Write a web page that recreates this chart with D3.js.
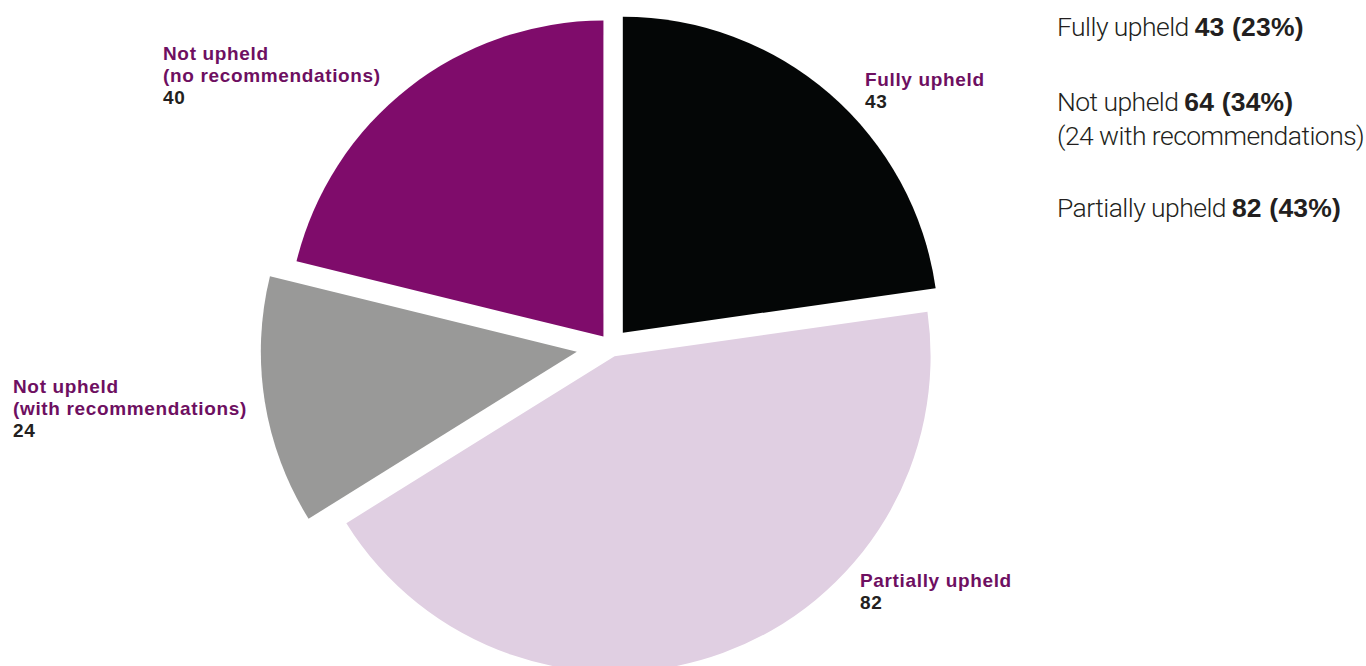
<!DOCTYPE html>
<html>
<head>
<meta charset="utf-8">
<script src="https://cdn.jsdelivr.net/npm/d3@7"></script>
<style>
  body { margin: 0; background: #fff; }
  .lbl { font-family: "Liberation Sans", Arial, sans-serif; font-weight: bold; font-size: 19px; letter-spacing: 0.65px; }
  .leg { font-family: Roboto, "Liberation Sans", sans-serif; font-weight: 300; font-size: 26.5px; letter-spacing: -0.55px; fill: #231f20; }
  .leg .b { font-family: "Liberation Sans", Arial, sans-serif; font-weight: bold; letter-spacing: 0.2px; }
</style>
</head>
<body>
<div id="chart"></div>
<script>
// slice data (clockwise from 12 o'clock)
categories = ['Fully upheld', 'Partially upheld', 'Not upheld (with recommendations)', 'Not upheld (no recommendations)']
values = [43, 82, 24, 40]
labelLines = [['Fully upheld'], ['Partially upheld'], ['Not upheld', '(with recommendations)'], ['Not upheld', '(no recommendations)']]

// legend on the right
legendNames = ['Fully upheld', 'Not upheld', 'Partially upheld']
legendCounts = [43, 64, 82]
legendPcts = ['23%', '34%', '43%']
legendNotes = ['', '(24 with recommendations)', '']

// styling / layout
colors = ['#040606', '#e0cfe2', '#999998', '#7f0c6b']
explode = [18, 10.5, 34.6, 12.3]
labelPos = [[865, 86], [860, 587], [13, 393], [163, 60]]
legendY = [36, 111, 217]

svgWidth = 1366
svgHeight = 666
cx = 611
cy = 346.3
radius = 316

svg = d3.select('#chart')
        .append('svg')
        .attr('width', svgWidth)
        .attr('height', svgHeight)

pie = d3.pie().sort(null).value(d => d)
arcs = pie(values)

arc = d3.arc().innerRadius(0).outerRadius(radius)

pieGroup = svg.append('g')
              .attr('transform', `translate(${cx},${cy})`)

pieGroup.selectAll('path')
        .data(arcs)
        .enter()
        .append('path')
        .attr('d', arc)
        .attr('fill', (d, i) => colors[i])
        .attr('transform', (d, i) => {
            a = (d.startAngle + d.endAngle) / 2
            return `translate(${Math.sin(a) * explode[i]},${-Math.cos(a) * explode[i]})`
        })

// slice labels
labelGroups = svg.selectAll('.lbl')
                 .data(arcs)
                 .enter()
                 .append('text')
                 .attr('class', 'lbl')
                 .attr('x', (d, i) => labelPos[i][0])
                 .attr('y', (d, i) => labelPos[i][1])

labelGroups.each(function(d, i) {
    t = d3.select(this)
    lines = labelLines[i]
    lines.forEach(function(line, j) {
        t.append('tspan')
         .attr('x', labelPos[i][0])
         .attr('dy', j == 0 ? 0 : 21.8)
         .attr('fill', '#6e0f61')
         .text(line)
    })
    t.append('tspan')
     .attr('x', labelPos[i][0])
     .attr('dy', 22.3)
     .attr('fill', '#231f20')
     .text(d.value)
})

// legend
legend = svg.append('g')

legendNames.forEach(function(name, i) {
    t = legend.append('text')
              .attr('class', 'leg')
              .attr('x', 1057)
              .attr('y', legendY[i])
    t.append('tspan').text(name + ' ')
    t.append('tspan').attr('class', 'b').text(`${legendCounts[i]} (${legendPcts[i]})`)
    if (legendNotes[i]) {
        legend.append('text')
              .attr('class', 'leg')
              .attr('x', 1057)
              .attr('y', legendY[i] + 34)
              .text(legendNotes[i])
    }
})
</script>
</body>
</html>
